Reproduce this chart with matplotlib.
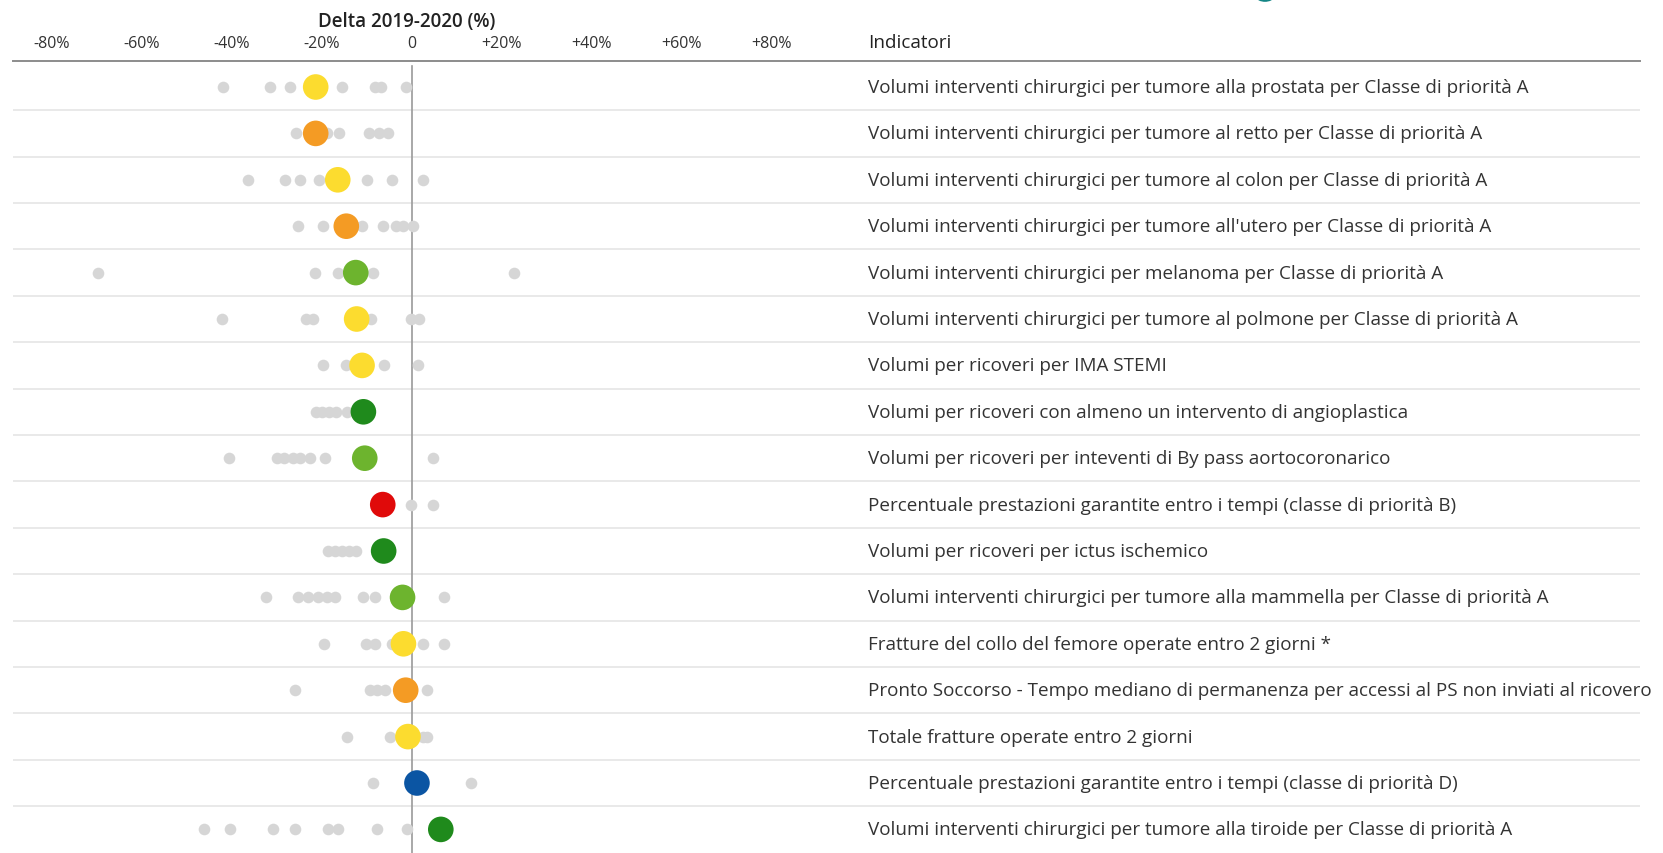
import matplotlib
matplotlib.use("Agg")
import matplotlib.pyplot as plt

# indicatori (dall'alto in basso)
indicatori = [
    "Volumi interventi chirurgici per tumore alla prostata per Classe di priorità A",
    "Volumi interventi chirurgici per tumore al retto per Classe di priorità A",
    "Volumi interventi chirurgici per tumore al colon per Classe di priorità A",
    "Volumi interventi chirurgici per tumore all'utero per Classe di priorità A",
    "Volumi interventi chirurgici per melanoma per Classe di priorità A",
    "Volumi interventi chirurgici per tumore al polmone per Classe di priorità A",
    "Volumi per ricoveri per IMA STEMI",
    "Volumi per ricoveri con almeno un intervento di angioplastica",
    "Volumi per ricoveri per inteventi di By pass aortocoronarico",
    "Percentuale prestazioni garantite entro i tempi (classe di priorità B)",
    "Volumi per ricoveri per ictus ischemico",
    "Volumi interventi chirurgici per tumore alla mammella per Classe di priorità A",
    "Fratture del collo del femore operate entro 2 giorni *",
    "Pronto Soccorso - Tempo mediano di permanenza per accessi al PS non inviati al ricovero",
    "Totale fratture operate entro 2 giorni",
    "Percentuale prestazioni garantite entro i tempi (classe di priorità D)",
    "Volumi interventi chirurgici per tumore alla tiroide per Classe di priorità A",
]

# delta 2019-2020 (%) della regione evidenziata
delta = [-21.4, -21.4, -16.5, -14.6, -12.5, -12.3, -11.1, -10.8, -10.5,
         -6.5, -6.3, -2.1, -1.9, -1.4, -0.9, 1.1, 6.4]
fascia = ["giallo", "arancio", "giallo", "arancio", "verde_chiaro", "giallo",
          "giallo", "verde_scuro", "verde_chiaro", "rosso", "verde_scuro",
          "verde_chiaro", "giallo", "arancio", "giallo", "blu", "verde_scuro"]

# delta delle altre regioni (punti grigi)
altre = [
    [-42, -31.6, -27.2, -15.5, -8.2, -7.0, -1.4],
    [-25.7, -18.9, -16.3, -9.5, -7.4, -5.3],
    [-36.5, -28.2, -24.8, -20.6, -9.9, -4.4, 2.4],
    [-25.3, -19.7, -11.2, -6.5, -3.6, -1.9, 0.3],
    [-69.7, -21.6, -16.5, -8.7, 22.6],
    [-42.3, -23.6, -22.1, -9.1, -0.3, 1.5],
    [-19.7, -14.6, -6.3, 1.4],
    [-21.4, -19.9, -18.5, -17.0, -14.5],
    [-40.7, -30.1, -28.4, -26.5, -24.8, -22.7, -19.3, 4.7],
    [-0.3, 4.7],
    [-18.7, -17.2, -15.5, -13.9, -12.5],
    [-32.5, -25.3, -23.1, -21.0, -18.9, -17.2, -10.8, -8.2, 7.1],
    [-19.6, -10.2, -8.2, -4.4, 2.4, 7.1],
    [-26.1, -9.4, -7.8, -6.1, 3.4],
    [-14.5, -4.8, 2.4, 3.4],
    [-8.7, 13.0],
    [-46.3, -40.4, -30.8, -26.1, -18.7, -16.5, -7.7, -1.2],
]

tick_vals = [-80, -60, -40, -20, 0, 20, 40, 60, 80]
tick_labels = ["-80%", "-60%", "-40%", "-20%", "0", "+20%", "+40%", "+60%", "+80%"]

colori = {
    "giallo": "#FCDC2F",
    "arancio": "#F49B24",
    "verde_chiaro": "#6DB42E",
    "verde_scuro": "#1F8A1C",
    "rosso": "#E00A0A",
    "blu": "#0B55A3",
}

plt.rcParams["font.family"] = ["Open Sans", "DejaVu Sans"]

W, H = 1663, 854
fig = plt.figure(figsize=(W / 100, H / 100), dpi=100)

# pixel layout: 0% at x=412, 4.5 px per %, rows 46.4 px apart from y=88
left_px, right_px, top_px = 13, 1640, 62
ax = fig.add_axes([left_px / W, 0, (right_px - left_px) / W, (H - top_px) / H])
ax.set_xlim((left_px - 412) / 4.5, (right_px - 412) / 4.5)
ax.set_ylim((H - 88) / 46.4, (top_px - 88) / 46.4)

for s in ["left", "right", "bottom"]:
    ax.spines[s].set_visible(False)
ax.spines["top"].set_color("#8c8c8c")
ax.spines["top"].set_linewidth(1.4)

n = len(indicatori)
for i in range(n - 1):
    ax.axhline(i + 0.5, color="#e3e3e3", linewidth=1.1, zorder=0)

ax.plot([0, 0], [-0.45, n], color="#9a9a9a", linewidth=1.2, zorder=1)

for i, vals in enumerate(altre):
    ax.scatter(vals, [i] * len(vals), s=70, color="#d6d6d6", linewidths=0, zorder=2)

ax.scatter(delta, range(n), s=340, color=[colori[f] for f in fascia],
           linewidths=0, zorder=3)

ax.xaxis.tick_top()
ax.set_xticks(tick_vals)
ax.set_xticklabels(tick_labels, fontsize=11.5, color="#333333")
ax.tick_params(axis="x", length=0, pad=7)
ax.set_yticks([])

text_x = (868 - 412) / 4.5
for i, lab in enumerate(indicatori):
    ax.text(text_x, i, lab, va="center", ha="left", fontsize=13.6, color="#333333")

fig.text(868 / W, 1 - 43 / H, "Indicatori", va="center", ha="left",
         fontsize=13.6, color="#222222")
fig.text(407 / W, 1 - 22 / H, "Delta 2019-2020 (%)", va="center", ha="center",
         fontsize=13.5, color="#222222", fontweight="semibold")

# legenda tagliata in alto
fig.add_artist(plt.Circle((1265 / W, 1 + 2 / H), 8 / W, color="#138585",
                          transform=fig.transFigure))

fig.savefig("out.png", dpi=100)
